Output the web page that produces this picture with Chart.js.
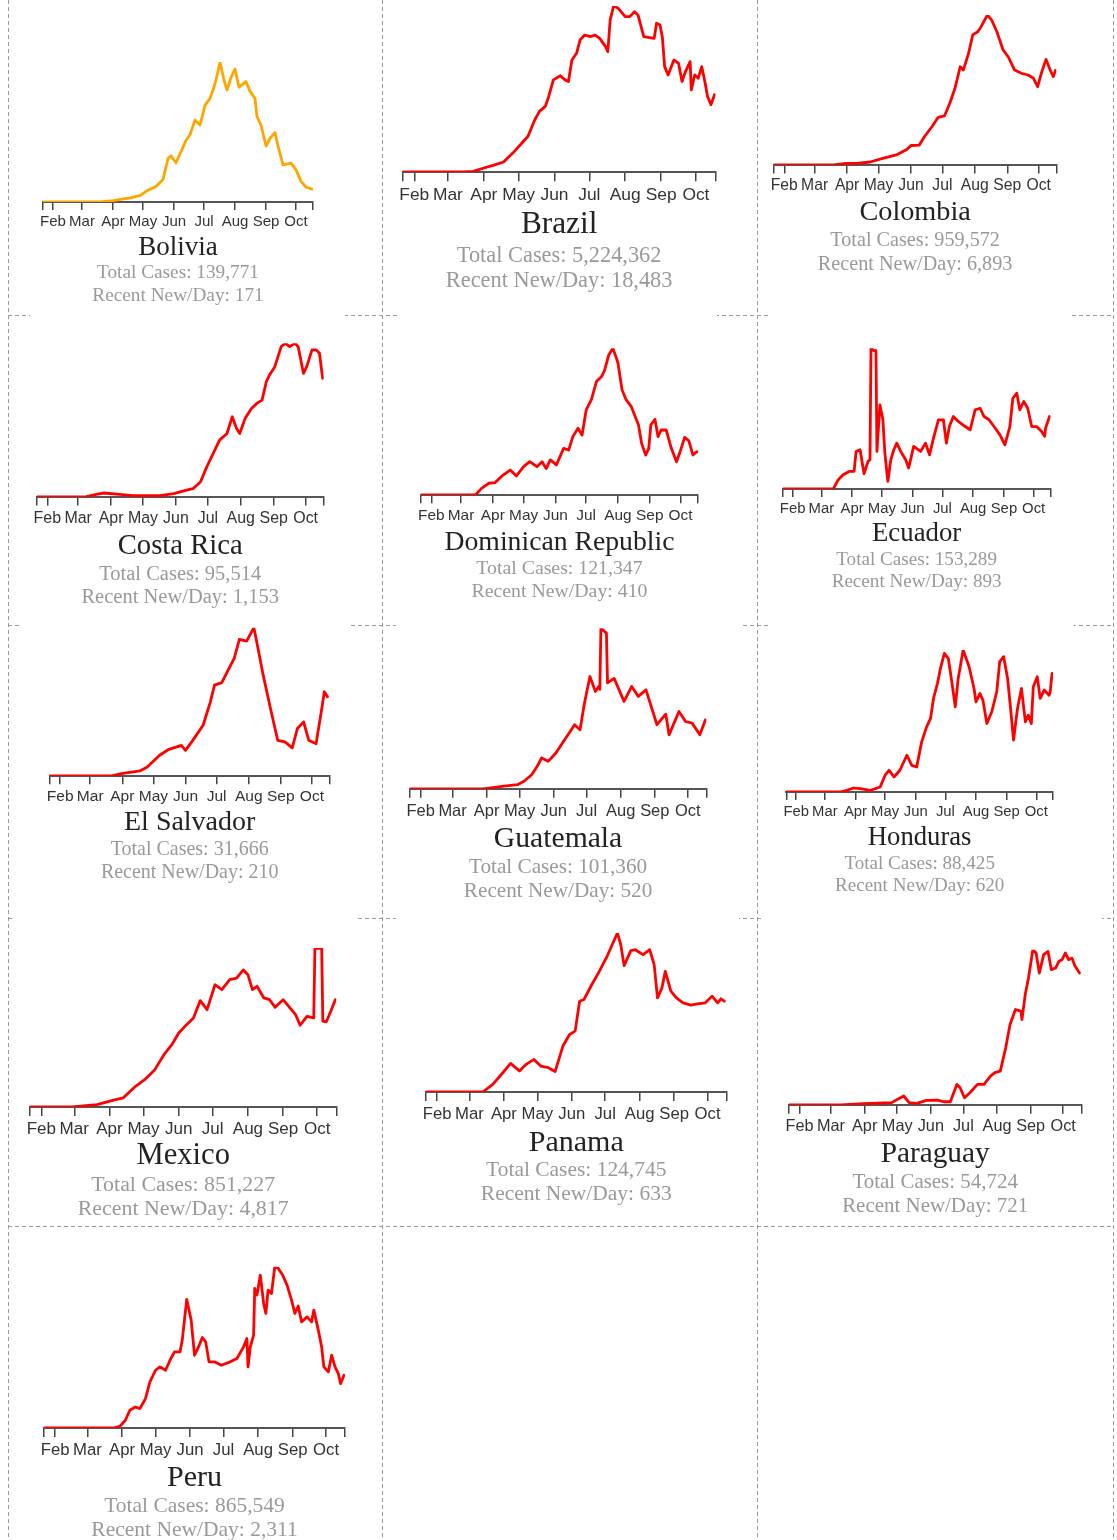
<!DOCTYPE html>
<html><head><meta charset="utf-8">
<script src="https://cdn.jsdelivr.net/npm/chart.js"></script>
<style>
html,body{margin:0;padding:0;background:#fff;}
#page{position:relative;width:1117px;height:1540px;overflow:hidden;background:#fff;}
.hl{position:absolute;height:1px;background:repeating-linear-gradient(to right,#9a9a9a 0 4px,transparent 4px 7px);}
.vl{position:absolute;width:1px;background:repeating-linear-gradient(to bottom,#9a9a9a 0 4px,transparent 4px 7px);}
canvas{position:absolute;background:#fff;}
.t{position:absolute;text-align:center;white-space:nowrap;font-family:"Liberation Serif","Times New Roman",serif;}
</style></head><body><div id="page"></div>
<script>
// ---- DATA (day index from Jan 22 2020, relative daily new cases in % of each country's peak) ----
const countries = ['Bolivia','Brazil','Colombia','Costa Rica','Dominican Republic','Ecuador','El Salvador','Guatemala','Honduras','Mexico','Panama','Paraguay','Peru'];
const totalCases = ['139,771','5,224,362','959,572','95,514','121,347','153,289','31,666','101,360','88,425','851,227','124,745','54,724','865,549'];
const recentNewPerDay = ['171','18,483','6,893','1,153','410','893','210','520','620','4,817','633','721','2,311'];
const tickDays = [0,10,39,70,100,131,161,192,223,253,270];
const tickLabels = ['','Feb','Mar','Apr','May','Jun','Jul','Aug','Sep','Oct',''];

const bolivia = [[0,0],[57,0],[70,1],[87,3],[97,4.5],[103,7.6],[113,11],[120,16],[125,31],[128,33],[133,28],[138,36],[143,44],[147,48],[152,58.5],[157,55],[162,69],[167,74],[170,80],[173,87],[177,100],[181,87],[184,80],[188,89],[192,95],[196,82],[203,86],[207,79],[212,74],[214,61],[218,55],[223,40],[227,45.5],[232,49.5],[235,40],[240,26.5],[248,27.7],[253,23],[258,14.7],[263,10.7],[269,9.2]];
const brazil = [[0,0],[52,0],[61,0.4],[70,2.4],[78,4],[87,6],[95,11.4],[104,18.4],[108,21.4],[114,31.5],[118,36.5],[123,39.5],[126,45.5],[130,55.5],[136,58],[140,55.5],[143,54.5],[146,67.5],[150,71.5],[153,79.5],[157,82.5],[162,81.5],[166,82.5],[170,80.5],[175,75.5],[177,72.5],[179,91.6],[182,100],[186,98.6],[192,93.6],[196,93.6],[200,96.6],[203,94.6],[208,81.5],[213,81],[217,80.5],[219,89.6],[222,88.6],[224,81.5],[226,63.5],[229,58.5],[234,67.5],[238,65.5],[241,54.5],[244,60.5],[248,66.5],[249,49.5],[252,58.5],[255,56.5],[258,63.5],[261,53.5],[263,45.5],[266,40.5],[269,46.5]];
const colombia = [[0,0],[57,0],[69,1],[79,1],[92,2],[104,4.4],[117,6.7],[127,10.4],[131,13],[139,13.3],[144,19],[151,25.5],[157,31.8],[163,32.7],[168,41],[173,51],[178,65.5],[181,63.3],[186,74.4],[190,86.7],[195,89],[198,92.2],[204,100],[208,96.7],[213,89],[219,76.7],[224,72],[230,63.3],[237,61],[243,60],[248,57.8],[252,52.2],[256,62.2],[260,70.4],[264,63.3],[267,58.9],[269,63]];
const costaRica = [[0,0],[45,0],[56,1.7],[63,2.6],[78,1.7],[91,0.9],[116,0.9],[129,2.2],[140,4.3],[147,5.4],[154,9.8],[160,19.6],[166,28.3],[172,37],[179,41.3],[184,52.2],[188,44.6],[191,41.3],[196,51],[202,57.6],[207,60.9],[212,63],[216,75],[219,79.3],[224,84.8],[230,97.8],[234,100],[238,97.8],[243,100],[246,97.8],[251,80.4],[254,84.8],[259,95.7],[263,95.7],[266,93.5],[269,77.2]];
const dominicanRep = [[0,0],[53,0],[59,4.5],[66,8],[72,8.4],[79,13],[87,17],[93,13],[100,19.3],[106,22.7],[113,19.3],[118,22.7],[122,18],[126,23.9],[132,20.5],[139,31.8],[144,30.7],[148,39.8],[153,45.5],[157,40.9],[161,58],[166,64.8],[171,77.3],[176,80.7],[179,85.2],[183,95.5],[187,100],[190,94.3],[192,89.8],[196,71.6],[200,64.8],[205,60.2],[212,47.7],[215,35.2],[219,27.3],[222,31.8],[224,47.7],[228,51.6],[231,39.8],[234,44.3],[239,44.3],[244,31.8],[249,22.7],[252,28.4],[257,39.3],[261,37],[265,27.3],[269,29.5]];
const ecuador = [[0,0],[51,0],[56,6.6],[61,10.2],[67,12.5],[72,12.5],[74,26.7],[78,27.9],[82,10.9],[86,19.6],[88,20.8],[89,100],[92,98.3],[94,98.3],[95,26.7],[98,59.8],[101,49.2],[103,25.5],[106,5.4],[109,20.8],[112,27.9],[115,32.6],[119,26.7],[124,20.8],[127,14.9],[132,30.3],[139,26.7],[144,32.6],[148,24.3],[152,36.2],[157,49.2],[162,49.2],[165,32.6],[168,44.4],[172,51.5],[177,48],[184,44.4],[189,42.1],[194,56.3],[199,57.4],[203,51.5],[208,49.2],[213,44.4],[219,38.5],[224,31.4],[229,44.4],[232,64.5],[236,68.1],[239,56.3],[243,62.2],[247,57.4],[251,44.4],[256,44.4],[261,40.9],[264,37.4],[265,43.3],[269,51.5]];
const elSalvador = [[0,0],[59,0],[69,1.6],[87,3.4],[94,6],[106,14],[115,18],[127,20.7],[131,17.3],[138,24],[148,34.2],[155,50],[159,61.3],[166,63],[173,72.5],[178,79.3],[183,92.1],[190,91],[197,100],[201,86],[206,68],[213,45.5],[220,24.1],[227,23],[234,19],[239,32],[245,36.5],[250,24.1],[257,21.8],[262,43.2],[265,56.8],[268,53.4]];
const guatemala = [[0,0],[67,0],[84,1.7],[98,2.7],[104,4.8],[111,8.9],[116,14.1],[120,19.3],[126,17.2],[133,22.4],[139,28.6],[146,35.8],[150,40],[155,36.9],[159,53.4],[164,70],[169,60.7],[172,63.8],[173,62],[174,100],[179,97],[180,66],[186,68.9],[195,54.5],[202,63.8],[208,57.6],[215,61.7],[225,40],[233,46.6],[236,33.7],[245,48.2],[251,42],[257,41],[264,33.7],[269,43]];
const honduras = [[0,0],[55,0],[61,1.2],[68,2.8],[75,2.4],[85,1.2],[95,3.5],[100,11.8],[104,15.3],[109,10.6],[115,15.3],[122,25.9],[127,18.8],[132,17.6],[137,35.3],[142,45.9],[146,51.8],[149,65.9],[153,76.5],[156,87],[160,97.6],[164,94],[168,75.3],[171,60],[174,80],[179,100],[185,88.2],[190,72.9],[192,63.5],[196,69.4],[199,64.7],[203,48.2],[208,56.5],[213,70.6],[216,91.8],[220,95.3],[224,80],[227,58.8],[230,36.5],[234,58.8],[238,72.9],[242,49.4],[245,54.1],[248,48.2],[250,74.1],[254,81.2],[257,65.9],[261,71.8],[266,68.2],[267,70],[269,83.5]];
const mexico = [[0,0],[37,0],[59,1.5],[72,4],[82,5.7],[93,13],[101,17.2],[110,23.5],[118,32.9],[125,39.2],[131,46.5],[138,51.8],[144,56],[150,66.9],[156,61.2],[163,76.9],[169,73.8],[176,80.1],[182,81.1],[188,86.2],[192,83.2],[196,73.8],[200,75.9],[206,68.6],[211,67.5],[216,62.7],[223,67.5],[229,62.3],[234,58.1],[238,51.4],[244,57],[250,56],[251,99.6],[257,100],[258,54],[261,53.5],[265,60.2],[269,67.5]];
const panama = [[0,0],[51,0],[60,4.8],[69,12.1],[76,18],[84,13.2],[90,17.4],[97,20.5],[103,16.3],[110,15.3],[116,12.8],[123,28.9],[129,36.2],[134,38.3],[138,57.1],[142,58.2],[149,67.6],[155,74.9],[162,84.3],[166,90.6],[172,100],[175,92.7],[178,79.5],[184,88.9],[188,89.5],[195,86.4],[201,89.5],[205,80.1],[208,59.2],[212,65.5],[215,75.9],[220,63.4],[225,59.2],[231,56.1],[238,54.6],[244,55.4],[251,56.1],[257,60.3],[262,56.1],[265,58.6],[268,57.1]];
const paraguay = [[0,0],[48,0],[69,0.9],[88,1.3],[95,1.5],[100,3.6],[106,5.8],[111,1.5],[118,1.1],[127,3],[137,3.2],[143,2.1],[149,2.1],[155,13.3],[158,11.1],[162,4.7],[167,7.9],[174,13.3],[180,13.3],[186,18.6],[190,20.8],[195,21.8],[200,36.8],[204,51.8],[209,61.5],[214,60.4],[215,55],[218,71.1],[221,81.8],[225,100],[228,97.9],[231,85],[235,96.8],[239,98.9],[242,87.2],[246,88.2],[249,92.5],[252,93.6],[255,97.9],[258,93.6],[261,94.6],[264,89.3],[268,85]];
const peru = [[0,0],[62,0],[68,1],[73,4.8],[77,11],[82,13],[86,12],[91,18.2],[95,28.6],[100,35.8],[104,37.9],[109,35.8],[113,42],[117,47.2],[122,47.2],[124,54.5],[128,79.7],[132,66.9],[135,45.1],[138,49.3],[142,56.1],[145,53.4],[148,41],[153,41],[159,38.9],[167,41],[173,43.1],[179,50.3],[182,55.5],[183,37.9],[185,50.3],[188,57.6],[189,86.5],[191,82.4],[194,94.8],[197,77.2],[199,71],[201,85.5],[204,83.4],[207,100],[210,99],[214,94.8],[218,88.6],[222,79.3],[225,71],[228,75.6],[231,65.8],[236,68.9],[240,65.8],[242,73.1],[246,60.7],[249,50.3],[251,37.9],[255,34.8],[258,45.1],[261,37.9],[264,33.7],[266,27.5],[269,32.7]];
const seriesList = [bolivia, brazil, colombia, costaRica, dominicanRep, ecuador, elSalvador, guatemala, honduras, mexico, panama, paraguay, peru];

// ---- LAYOUT (page pixels) ----
const panels = [
  {x0:43,    s:1.0,   base:202,    peak:62,     L:20,  R:350,  top:0,    ty:246,  s1:272,  s2:295,  color:'#FFA500'},
  {x0:402.7, s:1.159, base:172.3,  peak:6,      L:395, R:745,  top:0,    ty:223,  s1:255,  s2:280,  color:'#FF0000'},
  {x0:773.8, s:1.047, base:165,    peak:15,     L:765, R:1100, top:0,    ty:211,  s1:239,  s2:263,  color:'#FF0000'},
  {x0:36.7,  s:1.063, base:496.7,  peak:343.3,  L:30,  R:345,  top:312,  ty:544,  s1:573,  s2:596,  color:'#FF0000'},
  {x0:421,   s:1.026, base:495,    peak:348.3,  L:398, R:717,  top:312,  ty:541,  s1:568,  s2:591,  color:'#FF0000'},
  {x0:782.7, s:0.992, base:489.3,  peak:348.3,  L:770, R:1070, top:312,  ty:532,  s1:559,  s2:581,  color:'#FF0000'},
  {x0:49.8,  s:1.036, base:775.7,  peak:627.7,  L:22,  R:350,  top:622,  ty:821,  s1:848,  s2:871,  color:'#FF0000'},
  {x0:409.7, s:1.099, base:789.3,  peak:628.3,  L:396, R:742,  top:622,  ty:838,  s1:867,  s2:891,  color:'#FF0000'},
  {x0:786.3, s:0.988, base:791.7,  peak:650,    L:770, R:1074, top:622,  ty:836,  s1:863,  s2:885,  color:'#FF0000'},
  {x0:30,    s:1.135, base:1107,   peak:948,    L:12,  R:355,  top:915,  ty:1154, s1:1184, s2:1208, color:'#FF0000'},
  {x0:426,   s:1.113, base:1092.3, peak:933,    L:396, R:739,  top:915,  ty:1141, s1:1170, s2:1194, color:'#FF0000'},
  {x0:788.7, s:1.085, base:1105.3, peak:949.7,  L:762, R:1102, top:915,  ty:1153, s1:1182, s2:1206, color:'#FF0000'},
  {x0:44,    s:1.115, base:1427.7, peak:1266.7, L:20,  R:360,  top:1232, ty:1476, s1:1506, s2:1530, color:'#FF0000'}
];
const X_MAX = 270;

const page = document.getElementById('page');
[8,382,757,1113].forEach(x => {
  const d = document.createElement('div'); d.className = 'vl';
  d.style.left = x + 'px'; d.style.top = '0px'; d.style.height = '1540px'; page.appendChild(d);
});
[315,625,918,1226].forEach(y => {
  const d = document.createElement('div'); d.className = 'hl';
  d.style.left = '8px'; d.style.top = y + 'px'; d.style.width = '1106px'; page.appendChild(d);
});

function addText(txt, cx, cy, fs, color) {
  const d = document.createElement('div'); d.className = 't';
  d.textContent = txt;
  d.style.left = (cx - 250) + 'px'; d.style.width = '500px';
  d.style.top = (cy - 0.6 * fs) + 'px';
  d.style.fontSize = fs + 'px'; d.style.lineHeight = (1.2 * fs) + 'px';
  d.style.color = color;
  page.appendChild(d);
}

panels.forEach((p, i) => {
  const s = p.s;
  const axisH = Math.round(31 * s);
  const W = p.R - p.L;
  const H = Math.round(p.base - p.top + axisH);
  const cv = document.createElement('canvas');
  cv.width = W; cv.height = H;
  cv.style.left = p.L + 'px'; cv.style.top = p.top + 'px';
  cv.style.width = W + 'px'; cv.style.height = H + 'px';
  page.appendChild(cv);
  const padL = p.x0 - p.L;
  const padR = p.R - (p.x0 + X_MAX * s);
  const padT = p.peak - p.top;
  new Chart(cv, {
    type: 'line',
    data: { datasets: [{
      label: countries[i],
      data: seriesList[i].map(([x, y]) => ({x, y})),
      borderColor: p.color, borderWidth: 2.8, pointRadius: 0, tension: 0, fill: false,
      borderJoinStyle: 'round', borderCapStyle: 'round'
    }]},
    options: {
      responsive: false, animation: false, events: [],
      layout: { autoPadding: false, padding: { left: padL, right: padR, top: padT, bottom: 0 } },
      plugins: { legend: { display: false }, tooltip: { enabled: false }, title: { display: false } },
      scales: {
        x: {
          type: 'linear', min: 0, max: X_MAX, position: 'bottom',
          afterBuildTicks: sc => { sc.ticks = tickDays.map(v => ({ value: v })); },
          afterFit: sc => { sc.height = axisH; },
          grid: { display: true, drawOnChartArea: false, drawTicks: true, tickLength: 8 * s, color: '#444', lineWidth: 1.5 },
          border: { display: true, color: '#555', width: 2 },
          ticks: {
            autoSkip: false, maxRotation: 0, minRotation: 0, padding: 3 * s, color: '#333',
            font: { family: '"Liberation Sans", Arial, sans-serif', size: 15 * s },
            callback: (v, idx) => tickLabels[idx]
          }
        },
        y: { display: false, min: 0, max: 100 }
      }
    }
  });
  const cx = p.x0 + X_MAX * s / 2;
  addText(countries[i], cx, p.ty, 27 * s, '#222');
  addText('Total Cases: ' + totalCases[i], cx, p.s1, 19.3 * s, '#999');
  addText('Recent New/Day: ' + recentNewPerDay[i], cx, p.s2, 19.3 * s, '#999');
});
</script></body></html>
